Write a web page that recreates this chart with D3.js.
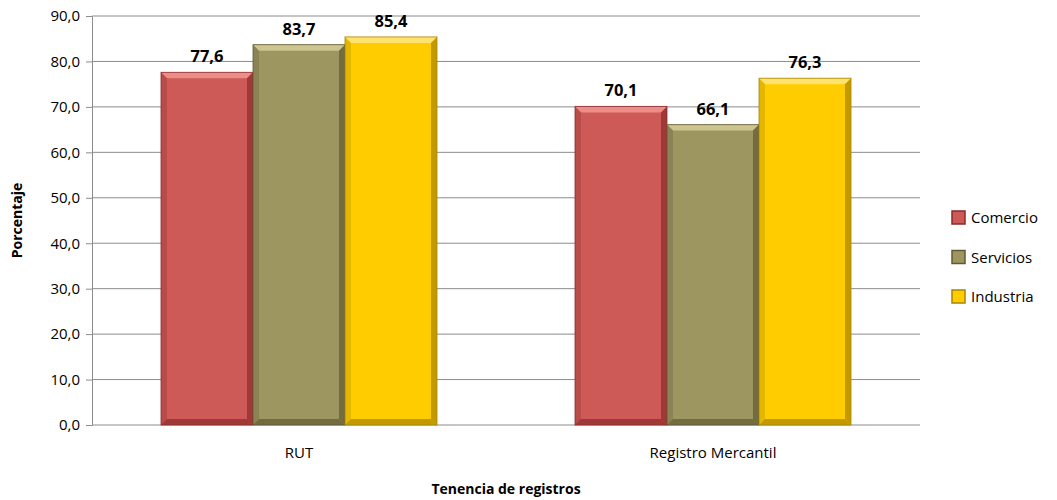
<!DOCTYPE html>
<html lang="es">
<head>
  <meta charset="UTF-8">
  <title>Tenencia de registros</title>
  <script src="https://d3js.org/d3.v7.min.js"></script>
  <style>
    body { margin: 0; background: #fff; }
    text { font-family: "Open Sans", "DejaVu Sans", sans-serif; fill: #000; }
    .tick text { font-size: 15px; }
    .val { font-size: 16.5px; font-weight: bold; }
    .title { font-size: 14px; font-weight: bold; }
  </style>
</head>
<body>
  <div id="chart"></div>
  <script>
    const categories = ["RUT", "Registro Mercantil"];
    const series = ["Comercio", "Servicios", "Industria"];
    const comercio = [77.6, 70.1];
    const servicios = [83.7, 66.1];
    const industria = [85.4, 76.3];
    const yTicks = [0, 10, 20, 30, 40, 50, 60, 70, 80, 90];

    const values = [comercio, servicios, industria];
    const colors = ["#cd5a57", "#9e9660", "#ffcc00"];
    const lights = ["#f39a96", "#d8d19c", "#ffe88a"];
    const darks = ["#8c2a28", "#5f5a34", "#a88500"];

    const width = 1057, height = 500;
    const margin = { top: 16, left: 92, right: 137, bottom: 75 };
    const plotW = width - margin.left - margin.right;
    const plotH = height - margin.top - margin.bottom;

    const svg = d3.select("#chart").append("svg")
      .attr("width", width)
      .attr("height", height);

    const g = svg.append("g").attr("transform", `translate(${margin.left},${margin.top})`);

    const x0 = d3.scaleBand().domain(categories).range([0, plotW]).paddingInner(0).paddingOuter(0);
    const x1 = d3.scaleBand().domain(series).range([69, x0.bandwidth() - 69]);
    const y = d3.scaleLinear().domain([0, 90]).range([plotH, 0]);

    // gridlines
    g.append("g").selectAll("line")
      .data(yTicks)
      .enter().append("line")
      .attr("x1", 0).attr("x2", plotW)
      .attr("y1", d => y(d)).attr("y2", d => y(d))
      .attr("stroke", "#8c8c8c").attr("stroke-width", 1);

    // y axis
    const yAxis = g.append("g")
      .call(d3.axisLeft(y).tickValues(yTicks).tickSize(6).tickPadding(6)
        .tickFormat(d => d3.format(".1f")(d).replace(".", ",")));
    yAxis.select(".domain").attr("stroke", "#8c8c8c");
    yAxis.selectAll(".tick line").attr("stroke", "#8c8c8c");

    // x axis labels
    const xAxis = g.append("g")
      .attr("transform", `translate(0,${plotH})`)
      .call(d3.axisBottom(x0).tickSize(0).tickPadding(22));
    xAxis.select(".domain").remove();

    const bev = 6;
    const bars = [];
    series.forEach((s, i) => {
      categories.forEach((c, j) => {
        bars.push({ s, i, c, v: values[i][j] });
      });
    });

    const bar = g.append("g").selectAll("g")
      .data(bars)
      .enter().append("g")
      .attr("transform", d => `translate(${x0(d.c) + x1(d.s)},${y(d.v)})`);

    bar.each(function (d) {
      const w = x1.bandwidth(), h = plotH - y(d.v);
      const el = d3.select(this);
      el.append("rect").attr("width", w).attr("height", h).attr("fill", colors[d.i]);
      // bevel faces
      el.append("polygon")
        .attr("points", `0,0 ${w},0 ${w - bev},${bev} ${bev},${bev}`)
        .attr("fill", lights[d.i]).attr("opacity", 0.8);
      el.append("polygon")
        .attr("points", `0,0 ${bev},${bev} ${bev},${h - bev} 0,${h}`)
        .attr("fill", darks[d.i]).attr("opacity", 0.3);
      el.append("polygon")
        .attr("points", `${w},0 ${w},${h} ${w - bev},${h - bev} ${w - bev},${bev}`)
        .attr("fill", darks[d.i]).attr("opacity", 0.7);
      el.append("polygon")
        .attr("points", `0,${h} ${bev},${h - bev} ${w - bev},${h - bev} ${w},${h}`)
        .attr("fill", darks[d.i]).attr("opacity", 0.7);
      el.append("rect").attr("width", w).attr("height", h)
        .attr("fill", "none").attr("stroke", darks[d.i]).attr("stroke-width", 1)
        .attr("stroke-opacity", 0.8);
    });

    // value labels
    g.append("g").selectAll("text")
      .data(bars)
      .enter().append("text")
      .attr("class", "val")
      .attr("x", d => x0(d.c) + x1(d.s) + x1.bandwidth() / 2)
      .attr("y", d => y(d.v) - 10)
      .attr("text-anchor", "middle")
      .text(d => d3.format(".1f")(d.v).replace(".", ","));

    // axis titles
    svg.append("text")
      .attr("class", "title")
      .attr("transform", `translate(22,${margin.top + plotH / 2}) rotate(-90)`)
      .attr("text-anchor", "middle")
      .text("Porcentaje");

    svg.append("text")
      .attr("class", "title")
      .attr("x", margin.left + plotW / 2)
      .attr("y", 494)
      .attr("text-anchor", "middle")
      .text("Tenencia de registros");

    // legend
    const legend = svg.append("g").attr("transform", "translate(952,211)")
      .selectAll("g")
      .data(series)
      .enter().append("g")
      .attr("transform", (d, i) => `translate(0,${i * 39.5})`);
    legend.append("rect")
      .attr("width", 13).attr("height", 13)
      .attr("fill", (d, i) => colors[i])
      .attr("stroke", (d, i) => darks[i]).attr("stroke-width", 1.5);
    legend.append("text")
      .attr("x", 19).attr("y", 12)
      .attr("font-size", 15)
      .text(d => d);
  </script>
</body>
</html>
